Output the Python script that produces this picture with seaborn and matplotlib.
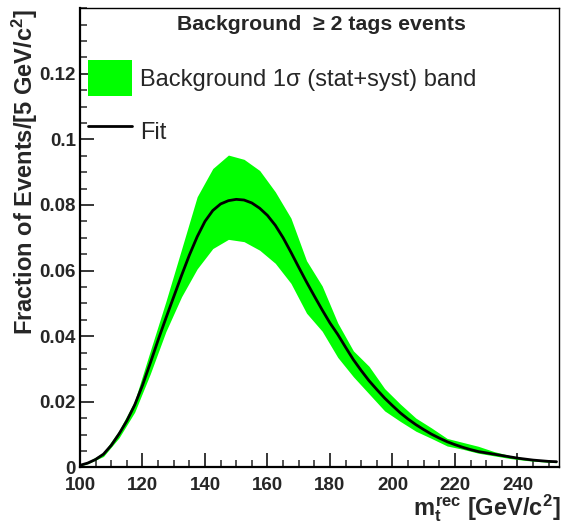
import numpy as np
import pandas as pd
import matplotlib
matplotlib.use("Agg")
import matplotlib.pyplot as plt
import seaborn as sns
from matplotlib.patches import Patch
from matplotlib.lines import Line2D
from matplotlib.ticker import MultipleLocator, FuncFormatter

# ---------------- data ----------------
fit_x = [100, 102.5, 105, 107.5, 110, 112.5, 115, 117.5, 120, 122.5, 125, 127.5,
         130, 132.5, 135, 137.5, 140, 142.5, 145, 147.5, 150, 152.5, 155, 157.5,
         160, 162.5, 165, 167.5, 170, 172.5, 175, 177.5, 180, 182.5, 185, 187.5,
         190, 192.5, 195, 197.5, 200, 202.5, 205, 207.5, 210, 212.5, 215, 217.5,
         220, 222.5, 225, 227.5, 230, 232.5, 235, 237.5, 240, 242.5, 245, 247.5,
         250, 252.5]
fit_y = [0.0006, 0.0013, 0.0024, 0.0040, 0.0067, 0.0102, 0.0142, 0.0190, 0.0250,
         0.0318, 0.0388, 0.0455, 0.0520, 0.0585, 0.0647, 0.0703, 0.0750, 0.0783,
         0.0803, 0.0813, 0.0817, 0.0815, 0.0806, 0.0790, 0.0768, 0.0738, 0.0700,
         0.0656, 0.0610, 0.0565, 0.0522, 0.0480, 0.0440, 0.0405, 0.0366, 0.0328,
         0.0295, 0.0264, 0.0237, 0.0211, 0.0188, 0.0166, 0.0147, 0.0130, 0.0115,
         0.0101, 0.0089, 0.0078, 0.0069, 0.0061, 0.0054, 0.0048, 0.0044, 0.0040,
         0.0036, 0.0032, 0.0028, 0.0025, 0.0022, 0.0020, 0.0018, 0.0017]

band_x = [100, 102.5, 107.5, 112.5, 117.5, 122.5, 127.5, 132.5, 137.5, 142.5,
          147.5, 152.5, 157.5, 162.5, 167.5, 172.5, 177.5, 182.5, 187.5, 192.5,
          197.5, 202.5, 207.5, 212.5, 217.5, 222.5, 227.5, 232.5, 237.5, 242.5,
          247.5, 252.5]
band_low = [0.0004, 0.0011, 0.0033, 0.0090, 0.0168, 0.0285, 0.0414, 0.0520,
            0.0605, 0.0667, 0.0695, 0.0688, 0.0662, 0.0622, 0.0561, 0.0470,
            0.0415, 0.0335, 0.0276, 0.0224, 0.0172, 0.0140, 0.0110, 0.0088,
            0.0065, 0.0055, 0.0043, 0.0035, 0.0027, 0.0021, 0.0017, 0.0014]
band_up = [0.0008, 0.0017, 0.0045, 0.0112, 0.0202, 0.0355, 0.0506, 0.0665,
           0.0825, 0.0911, 0.0952, 0.0939, 0.0905, 0.0840, 0.0760, 0.0630,
           0.0553, 0.0440, 0.0355, 0.0308, 0.0240, 0.0193, 0.0150, 0.0120,
           0.0088, 0.0076, 0.0064, 0.0048, 0.0036, 0.0028, 0.0022, 0.0018]

x_ticks = [100, 120, 140, 160, 180, 200, 220, 240]
y_ticks = [0, 0.02, 0.04, 0.06, 0.08, 0.1, 0.12]

title_text = "Background  \u2265 2 tags events"
band_label = "Background 1\u03c3 (stat+syst) band"
fit_label = "Fit"
xlabel_text = r"$m_{t}^{rec}$ [GeV/c$^{2}$]"
ylabel_text = r"Fraction of Events/[5 GeV/c$^{2}$]"

# ---------------- style ----------------
sns.set_style("ticks")
plt.rcParams["font.family"] = ["Liberation Sans", "DejaVu Sans"]
plt.rcParams["mathtext.fontset"] = "custom"
plt.rcParams["mathtext.rm"] = "Liberation Sans:bold"
plt.rcParams["mathtext.it"] = "Liberation Sans:bold"
plt.rcParams["mathtext.bf"] = "Liberation Sans:bold"
plt.rcParams["mathtext.sf"] = "Liberation Sans:bold"

W, H = 564, 529
fig = plt.figure(figsize=(W / 100, H / 100), dpi=100)
ax_l, ax_r, ax_t, ax_b = 80, 559, 7.5, 467.3
ax = fig.add_axes([ax_l / W, (H - ax_b) / H, (ax_r - ax_l) / W, (ax_b - ax_t) / H])

fit_df = pd.DataFrame({"x": fit_x, "y": fit_y})
band_df = pd.DataFrame({"x": band_x, "low": band_low, "up": band_up})

green = "#00ff00"
ax.fill_between(band_df["x"], band_df["low"], band_df["up"], color=green,
                linewidth=0, zorder=1)
sns.lineplot(data=fit_df, x="x", y="y", ax=ax, color="black", linewidth=2.0,
             zorder=2, legend=False, solid_joinstyle="round")

ax.set_xlim(100, 253.3)
ax.set_ylim(0, 0.1402)
ax.set_xticks(x_ticks)
ax.set_yticks(y_ticks)
ax.xaxis.set_minor_locator(MultipleLocator(5))
ax.yaxis.set_minor_locator(MultipleLocator(0.005))
ax.yaxis.set_major_formatter(FuncFormatter(lambda v, p: f"{v:g}"))
ax.xaxis.set_major_formatter(FuncFormatter(lambda v, p: f"{v:g}"))
ax.tick_params(axis="both", which="major", direction="in", length=10, width=1.3,
               labelsize=13.5, top=False, right=False)
ax.tick_params(axis="both", which="minor", direction="in", length=5, width=1.1,
               top=False, right=False)
ax.tick_params(axis="x", which="major", pad=7.0)
ax.tick_params(axis="y", which="major", pad=3)
for lab in ax.get_xticklabels() + ax.get_yticklabels():
    lab.set_fontweight("bold")
for s in ["left", "bottom"]:
    ax.spines[s].set_linewidth(1.6)
for s in ["top", "right"]:
    ax.spines[s].set_visible(True)
    ax.spines[s].set_linewidth(1.0)
for s in ax.spines.values():
    s.set_color("black")
ax.set_xlabel("")
ax.set_ylabel("")

# axis titles
fig.text(561 / W, (H - 515) / H, xlabel_text, ha="right", va="baseline",
         fontsize=17, fontweight="bold")
fig.text(25 / W, (H - 172) / H, ylabel_text, ha="center", va="center",
         rotation=90, fontsize=17, fontweight="bold")

# title
fig.text(321 / W, (H - 25) / H, title_text, ha="center", va="center",
         fontsize=15.3, fontweight="bold")

# legend
handles = [Patch(facecolor=green, edgecolor=green, linewidth=0),
           Line2D([0], [0], color="black", linewidth=2.0)]
leg = ax.legend(handles, [band_label, fit_label], loc="upper left",
                bbox_to_anchor=((88 - ax_l) / (ax_r - ax_l), (ax_b - 60) / (ax_b - ax_t)),
                frameon=False, fontsize=17, handlelength=1.86, handleheight=2.0,
                handletextpad=0.35, labelspacing=0.70, borderpad=0, borderaxespad=0)

fig.savefig("out.png", dpi=100)
